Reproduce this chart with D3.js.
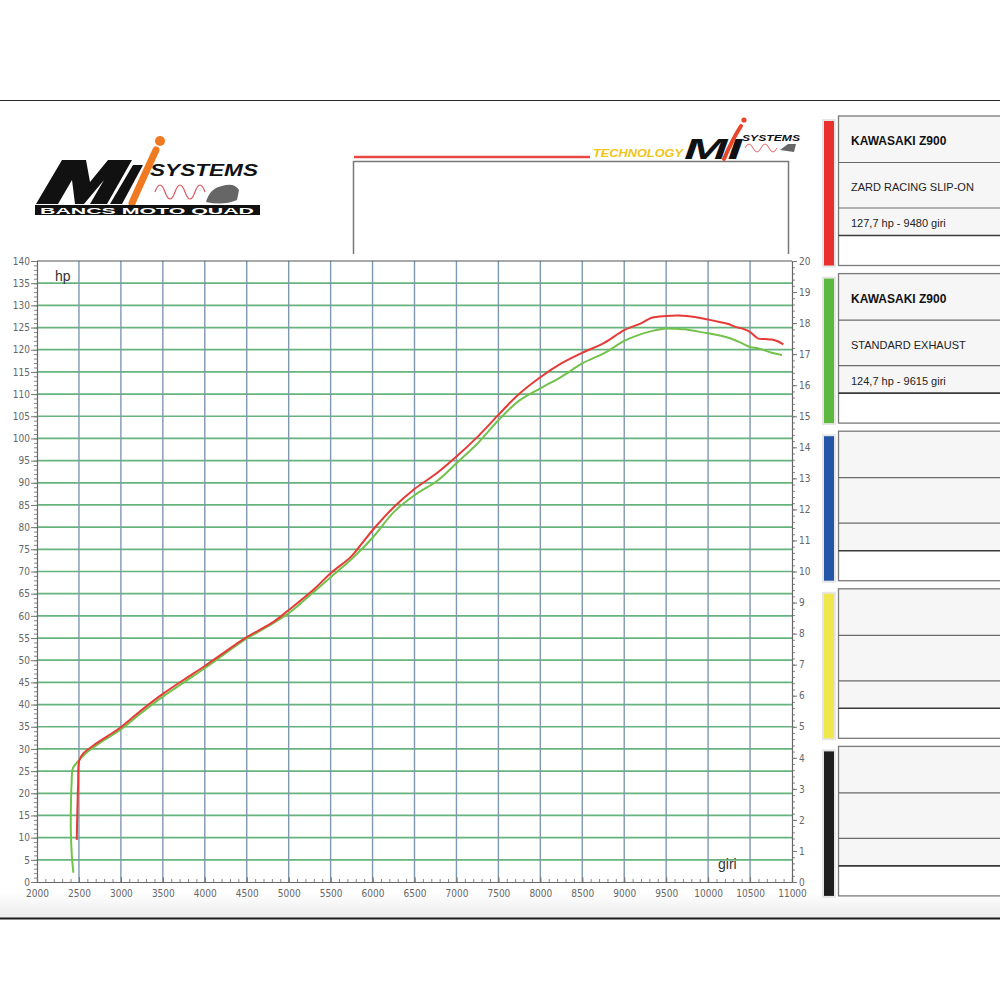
<!DOCTYPE html>
<html>
<head>
<meta charset="utf-8">
<script src="https://cdn.jsdelivr.net/npm/d3@7"></script>
<style>
html,body{margin:0;padding:0;background:#fff;}
svg{display:block;}
</style>
</head>
<body>
<svg id="chart" width="1000" height="1000"></svg>
<script>
// ---------------- DATA ----------------
const zardRpm = [2474,2480,2490,2505,2553,2713,2850,3000,3250,3500,3750,4000,4250,4500,4824,5000,5302,5500,5741,5860,6000,6258,6500,6776,7000,7254,7500,7733,8000,8250,8500,8767,9000,9206,9327,9500,9650,9843,10000,10150,10243,10318,10420,10500,10560,10600,10680,10758,10830,10897];
const zardHp  = [9.5,15,22,27.5,29.0,31.3,33.0,34.9,38.8,42.4,45.6,48.7,52.0,55.2,58.7,61.3,66.0,69.6,73.3,76.0,79.3,84.6,88.6,92.3,95.9,100.4,105.3,109.8,113.8,116.9,119.3,121.6,124.4,126.0,127.2,127.6,127.7,127.4,126.8,126.2,125.8,125.2,124.7,124.0,123.0,122.5,122.4,122.3,121.9,121.2];

const stdRpm = [2434,2415,2403,2405,2412,2427,2470,2513,2600,2800,3000,3250,3500,3750,4000,4250,4500,4750,5000,5250,5500,5750,6000,6258,6500,6776,7000,7254,7500,7733,8000,8250,8500,8767,9000,9166,9350,9500,9615,9724,9850,10000,10243,10400,10500,10600,10758,10880];
const stdHp  = [2.1,6,11.7,18,22,25.6,26.8,27.7,29.3,32.0,34.4,38.2,41.8,45.0,48.2,51.6,54.9,57.6,60.6,64.6,68.7,72.8,77.6,83.5,87.2,90.5,94.4,98.9,104.1,108.3,111.3,113.9,116.9,119.3,122.0,123.3,124.3,124.8,124.7,124.6,124.2,123.7,122.7,121.5,120.6,120.3,119.3,118.8];

const xTicks = [2000,2500,3000,3500,4000,4500,5000,5500,6000,6500,7000,7500,8000,8500,9000,9500,10000,10500,11000];
const hpTicks = [0,5,10,15,20,25,30,35,40,45,50,55,60,65,70,75,80,85,90,95,100,105,110,115,120,125,130,135,140];
const rightTicks = [0,1,2,3,4,5,6,7,8,9,10,11,12,13,14,15,16,17,18,19,20];

const legendTitles = ["KAWASAKI Z900","KAWASAKI Z900","","",""];
const legendNames  = ["ZARD RACING SLIP-ON","STANDARD EXHAUST","","",""];
const legendPeaks  = ["127,7 hp - 9480 giri","124,7 hp - 9615 giri","","",""];
const legendColors = ["#e8302e","#5cb83f","#2356a8","#efe74c","#1e1e1e"];

// ---------------- SETUP ----------------
const svg = d3.select("#chart");
const tickFont = "'DejaVu Sans Condensed','Liberation Sans Narrow','DejaVu Sans',sans-serif";
const textFont = "'Liberation Sans',Arial,sans-serif";

const x = d3.scaleLinear().domain([2000,11000]).range([37,792]);
const y = d3.scaleLinear().domain([0,140]).range([882,261]);
const y2 = d3.scaleLinear().domain([0,20]).range([882,261]);

// page frame
const defs = svg.append("defs");
const grad = defs.append("linearGradient").attr("id","shade").attr("x1",0).attr("y1",0).attr("x2",0).attr("y2",1);
grad.append("stop").attr("offset","0%").attr("stop-color","#ffffff");
grad.append("stop").attr("offset","100%").attr("stop-color","#ebebeb");
svg.append("rect").attr("x",0).attr("y",892).attr("width",1000).attr("height",26).attr("fill","url(#shade)");
svg.append("line").attr("x1",0).attr("x2",1000).attr("y1",100.5).attr("y2",100.5).attr("stroke","#2a2a2a").attr("stroke-width",1.2);
svg.append("line").attr("x1",0).attr("x2",1000).attr("y1",918.5).attr("y2",918.5).attr("stroke","#1a1a1a").attr("stroke-width",2);

// ---------------- GRID ----------------
const grid = svg.append("g");
grid.selectAll("line.h").data(hpTicks.filter(d=>d>0 && d<140)).join("line")
  .attr("x1",x(2000)).attr("x2",x(11000))
  .attr("y1",d=>y(d)).attr("y2",d=>y(d))
  .attr("stroke","#66b37d").attr("stroke-width",1.7);
grid.selectAll("line.v").data(xTicks.filter(d=>d>2000 && d<11000)).join("line")
  .attr("x1",d=>x(d)).attr("x2",d=>x(d))
  .attr("y1",y(140)).attr("y2",y(0))
  .attr("stroke","#7e98b2").attr("stroke-width",1.4);
svg.append("line").attr("x1",x(2000)).attr("x2",x(11000)).attr("y1",y(140)).attr("y2",y(140))
  .attr("stroke","#555").attr("stroke-width",1.2);

// ---------------- AXES ----------------
function styleAxis(g){
  g.select(".domain").attr("stroke","#666").attr("stroke-width",1.2);
  g.selectAll(".tick line").attr("stroke","#777");
  g.selectAll("text").attr("fill","#666").attr("font-family",tickFont).attr("font-size","10px");
}
svg.append("g").attr("transform",`translate(${x(2000)},0)`)
  .call(d3.axisLeft(y).tickValues(d3.range(0,141,1)).tickSize(3).tickFormat(""))
  .call(g=>{g.select(".domain").remove(); g.selectAll(".tick line").attr("stroke","#888");});
svg.append("g").attr("transform",`translate(${x(2000)},0)`)
  .call(d3.axisLeft(y).tickValues(hpTicks).tickSize(6).tickPadding(1))
  .call(styleAxis);
svg.append("g").attr("transform",`translate(0,${y(0)})`)
  .call(d3.axisBottom(x).tickValues(d3.range(2000,11001,100)).tickSize(-3).tickFormat(""))
  .call(g=>{g.select(".domain").remove(); g.selectAll(".tick line").attr("stroke","#888");});
svg.append("g").attr("transform",`translate(0,${y(0)})`)
  .call(d3.axisBottom(x).tickValues(xTicks).tickSize(-5).tickPadding(8).tickFormat(d3.format("d")))
  .call(styleAxis);
svg.append("g").attr("transform",`translate(${x(11000)},0)`)
  .call(d3.axisRight(y2).tickValues(d3.range(0,20.01,0.2)).tickSize(3).tickFormat(""))
  .call(g=>{g.select(".domain").remove(); g.selectAll(".tick line").attr("stroke","#888");});
svg.append("g").attr("transform",`translate(${x(11000)},0)`)
  .call(d3.axisRight(y2).tickValues(rightTicks).tickSize(5).tickPadding(2))
  .call(styleAxis);

svg.append("text").attr("x",55).attr("y",281).text("hp")
  .attr("font-family",textFont).attr("font-size","14px").attr("fill","#333");
svg.append("text").attr("x",718).attr("y",869).text("giri")
  .attr("font-family",textFont).attr("font-size","14px").attr("fill","#333");

// ---------------- CURVES ----------------
const line = d3.line().x(d=>x(d[0])).y(d=>y(d[1])).curve(d3.curveCatmullRom.alpha(0.5));
const stdData = stdRpm.map((r,i)=>[r,stdHp[i]]);
const zardData = zardRpm.map((r,i)=>[r,zardHp[i]]);
svg.append("path").datum(stdData).attr("d",line).attr("fill","none")
  .attr("stroke","#72c24c").attr("stroke-width",2).attr("stroke-linejoin","round");
svg.append("path").datum(zardData).attr("d",line).attr("fill","none")
  .attr("stroke","#e63a37").attr("stroke-width",2).attr("stroke-linejoin","round");

// ---------------- HEADER BOX ----------------
svg.append("line").attr("x1",354).attr("x2",590).attr("y1",157).attr("y2",157)
  .attr("stroke","#e84a45").attr("stroke-width",2.5);
svg.append("path").attr("d","M353.5,254 V161.5 H788.5 V254").attr("fill","none")
  .attr("stroke","#777").attr("stroke-width",1.5);
svg.append("text").attr("x",593).attr("y",157).text("TECHNOLOGY")
  .attr("font-family",textFont).attr("font-weight","bold").attr("font-style","italic")
  .attr("font-size","11px").attr("fill","#f0c419").attr("textLength",90).attr("lengthAdjust","spacingAndGlyphs");
svg.append("text").attr("x",684).attr("y",159).text("MI")
  .attr("font-family",textFont).attr("font-weight","900").attr("font-style","italic")
  .attr("font-size","29px").attr("fill","#111").attr("textLength",58).attr("lengthAdjust","spacingAndGlyphs");
svg.append("path").attr("d","M724,159 Q732,140 741,126").attr("stroke","#e8452a").attr("stroke-width",4).attr("fill","none").attr("stroke-linecap","round");
svg.append("circle").attr("cx",744).attr("cy",120).attr("r",2.6).attr("fill","#e8452a");
svg.append("text").attr("x",742).attr("y",141).text("SYSTEMS")
  .attr("font-family",textFont).attr("font-weight","bold").attr("font-style","italic")
  .attr("font-size","9px").attr("fill","#111").attr("textLength",58).attr("lengthAdjust","spacingAndGlyphs");
svg.append("path").attr("d","M745,148 q4,-8 8,0 t8,0 t8,0 t8,0").attr("stroke","#e86a6a").attr("stroke-width",1).attr("fill","none");
svg.append("path").attr("d","M780,150 l8,-6 l8,0 l-2,8 z").attr("fill","#666");

// left logo (stylised M mark as shapes, words as text)
const lg = svg.append("g");
lg.append("path").attr("d","M36,204 L62,160 L86,160 L90,182 L108,160 L132,160 L107,204 L90,204 L104,180 L84,204 L75,204 L72,180 L58,204 Z").attr("fill","#111");
lg.append("path").attr("d","M110,204 L133,165 L143,165 L122,204 Z").attr("fill","#111");
lg.append("path").attr("d","M132,203 Q144,176 156,150").attr("stroke","#f07a22").attr("stroke-width",7).attr("fill","none").attr("stroke-linecap","round");
lg.append("circle").attr("cx",160).attr("cy",141).attr("r",5).attr("fill","#f07a22");
lg.append("text").attr("x",150).attr("y",176).text("SYSTEMS")
  .attr("font-family",textFont).attr("font-weight","900").attr("font-style","italic")
  .attr("font-size","17px").attr("fill","#111").attr("textLength",108).attr("lengthAdjust","spacingAndGlyphs");
lg.append("path").attr("d","M155,192 q5,-14 10,0 t10,0 t10,0 t10,0 t10,0").attr("stroke","#e05560").attr("stroke-width",1.2).attr("fill","none");
lg.append("path").attr("d","M206,202 q4,-14 16,-16 q12,-4 17,4 l-2,10 q-14,6 -31,2 z").attr("fill","#666");
lg.append("rect").attr("x",35).attr("y",205).attr("width",225).attr("height",10).attr("fill","#111");
lg.append("text").attr("x",40).attr("y",213.5).text("BANCS MOTO QUAD")
  .attr("font-family",textFont).attr("font-weight","bold").attr("font-size","9px").attr("fill","#fff")
  .attr("textLength",214).attr("lengthAdjust","spacingAndGlyphs");

// ---------------- LEGEND PANELS ----------------
const rowH = [46.5,45.5,27.5,30];
legendColors.forEach((c,i)=>{
  const top = 116 + i*157.6;
  const total = d3.sum(rowH);
  const g = svg.append("g");
  g.append("rect").attr("x",822).attr("y",top+3).attr("width",14).attr("height",total-1).attr("fill","#e6e6e6");
  g.append("rect").attr("x",824).attr("y",top+5).attr("width",10).attr("height",total-5).attr("fill",c);
  g.append("rect").attr("x",838.5).attr("y",top).attr("width",170).attr("height",rowH[0]+rowH[1]+rowH[2]).attr("fill","#f6f6f6");
  g.append("rect").attr("x",838.5).attr("y",top+rowH[0]+rowH[1]+rowH[2]).attr("width",170).attr("height",rowH[3]).attr("fill","#fff");
  g.append("rect").attr("x",838.5).attr("y",top).attr("width",170).attr("height",total).attr("fill","none").attr("stroke","#7a7a7a").attr("stroke-width",1.3);
  let yy = top;
  rowH.slice(0,3).forEach((h,k)=>{
    yy += h;
    g.append("line").attr("x1",838.5).attr("x2",1000).attr("y1",yy).attr("y2",yy)
      .attr("stroke",k===2?"#3a3a3a":"#6a6a6a").attr("stroke-width",k===2?1.6:1.2);
  });
  g.append("text").attr("x",851).attr("y",top+29).text(legendTitles[i])
    .attr("font-family",textFont).attr("font-weight","bold").attr("font-size","12px").attr("fill","#111");
  g.append("text").attr("x",851).attr("y",top+75).text(legendNames[i])
    .attr("font-family",textFont).attr("font-size","11px").attr("fill","#222");
  g.append("text").attr("x",851).attr("y",top+111).text(legendPeaks[i])
    .attr("font-family",textFont).attr("font-size","11px").attr("fill","#222");
});
</script>
</body>
</html>
